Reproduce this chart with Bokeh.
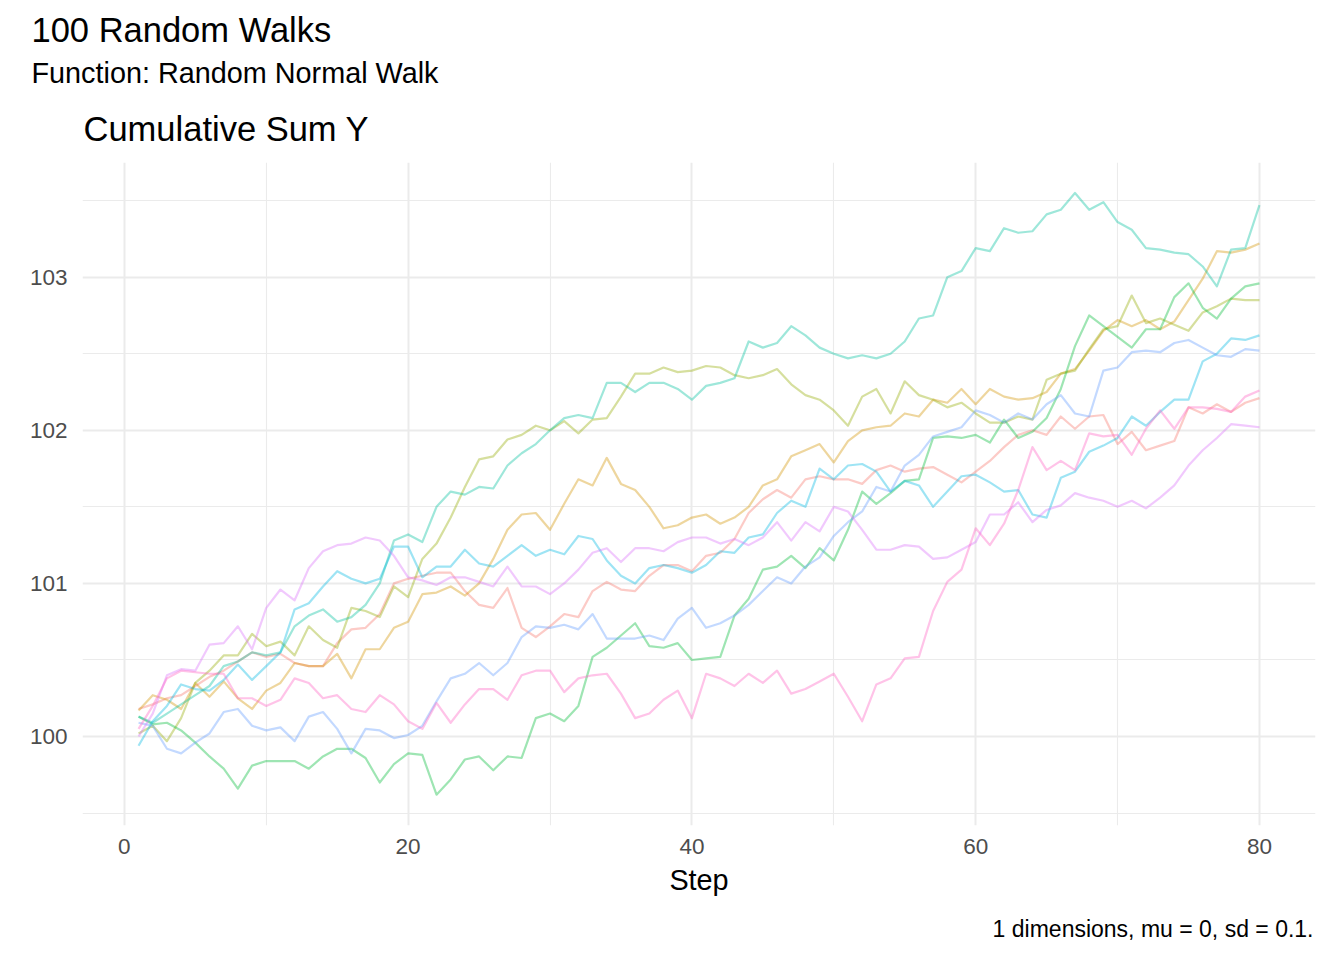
from bokeh.plotting import figure
from bokeh.models import Range1d, FixedTicker, Title
from bokeh.embed import file_html
from bokeh.resources import INLINE

steps = list(range(1, 81))

walk_red = [100.18, 100.21, 100.25, 100.27, 100.33, 100.39, 100.43, 100.49, 100.55, 100.52,
            100.54, 100.48, 100.46, 100.46, 100.61, 100.70, 100.71, 100.80, 101.00, 101.03,
            101.05, 101.07, 101.07, 100.95, 100.86, 100.84, 100.97, 100.71, 100.65, 100.72,
            100.80, 100.78, 100.95, 101.01, 100.96, 100.95, 101.05, 101.12, 101.12, 101.08,
            101.18, 101.20, 101.29, 101.46, 101.55, 101.61, 101.56, 101.68, 101.70, 101.68,
            101.68, 101.65, 101.74, 101.77, 101.73, 101.75, 101.76, 101.71, 101.66, 101.73,
            101.80, 101.89, 101.97, 102.00, 101.97, 102.09, 102.01, 102.09, 102.10, 101.91,
            101.99, 101.87, 101.90, 101.93, 102.15, 102.11, 102.17, 102.12, 102.18, 102.21]

walk_orange = [100.17, 100.27, 100.24, 100.18, 100.35, 100.26, 100.36, 100.25, 100.18, 100.30,
               100.35, 100.48, 100.46, 100.46, 100.54, 100.38, 100.57, 100.57, 100.71, 100.75,
               100.93, 100.94, 100.98, 100.92, 101.00, 101.16, 101.35, 101.45, 101.46, 101.35,
               101.52, 101.68, 101.64, 101.82, 101.65, 101.61, 101.50, 101.36, 101.38, 101.43,
               101.45, 101.39, 101.43, 101.50, 101.64, 101.68, 101.83, 101.87, 101.91, 101.79,
               101.93, 102.00, 102.02, 102.03, 102.11, 102.09, 102.20, 102.18, 102.27, 102.17,
               102.27, 102.22, 102.20, 102.21, 102.25, 102.37, 102.40, 102.52, 102.65, 102.72,
               102.68, 102.72, 102.66, 102.71, 102.85, 102.99, 103.17, 103.16, 103.18, 103.22]

walk_olive = [100.02, 100.07, 99.97, 100.12, 100.35, 100.43, 100.53, 100.53, 100.67, 100.59,
              100.62, 100.53, 100.72, 100.63, 100.58, 100.84, 100.82, 100.78, 100.98, 100.91,
              101.16, 101.26, 101.43, 101.63, 101.81, 101.83, 101.94, 101.97, 102.03, 102.00,
              102.06, 101.98, 102.07, 102.08, 102.22, 102.37, 102.37, 102.41, 102.38, 102.39,
              102.42, 102.41, 102.36, 102.34, 102.36, 102.40, 102.30, 102.23, 102.20, 102.13,
              102.03, 102.22, 102.27, 102.11, 102.32, 102.23, 102.20, 102.15, 102.18, 102.11,
              102.05, 102.05, 102.09, 102.07, 102.33, 102.37, 102.39, 102.53, 102.66, 102.68,
              102.88, 102.70, 102.73, 102.69, 102.65, 102.77, 102.81, 102.86, 102.85, 102.85]

walk_green = [100.13, 100.08, 100.09, 100.04, 99.96, 99.87, 99.79, 99.66, 99.81, 99.84,
              99.84, 99.84, 99.79, 99.87, 99.92, 99.92, 99.86, 99.70, 99.82, 99.89,
              99.88, 99.62, 99.72, 99.85, 99.87, 99.78, 99.87, 99.86, 100.12, 100.15,
              100.10, 100.20, 100.52, 100.58, 100.66, 100.74, 100.59, 100.58, 100.61, 100.50,
              100.51, 100.52, 100.79, 100.90, 101.09, 101.11, 101.18, 101.10, 101.23, 101.15,
              101.35, 101.60, 101.52, 101.59, 101.67, 101.68, 101.95, 101.96, 101.95, 101.97,
              101.92, 102.07, 101.95, 101.99, 102.08, 102.27, 102.55, 102.75, 102.68, 102.61,
              102.54, 102.66, 102.66, 102.87, 102.96, 102.80, 102.73, 102.86, 102.94, 102.96]

walk_teal = [100.13, 100.09, 100.15, 100.21, 100.27, 100.33, 100.46, 100.49, 100.55, 100.53,
             100.55, 100.72, 100.79, 100.83, 100.75, 100.78, 100.86, 101.00, 101.28, 101.32,
             101.27, 101.50, 101.60, 101.58, 101.63, 101.62, 101.77, 101.85, 101.91, 102.00,
             102.08, 102.10, 102.08, 102.31, 102.31, 102.25, 102.31, 102.31, 102.27, 102.20,
             102.29, 102.31, 102.34, 102.58, 102.54, 102.57, 102.68, 102.62, 102.54, 102.50,
             102.47, 102.49, 102.47, 102.50, 102.58, 102.73, 102.75, 103.00, 103.04, 103.19,
             103.17, 103.32, 103.29, 103.30, 103.41, 103.44, 103.55, 103.44, 103.49, 103.36,
             103.31, 103.19, 103.18, 103.16, 103.15, 103.07, 102.94, 103.18, 103.19, 103.47]

walk_cyan = [99.94, 100.10, 100.20, 100.34, 100.31, 100.30, 100.37, 100.47, 100.37, 100.46,
             100.55, 100.83, 100.87, 100.98, 101.08, 101.03, 101.00, 101.03, 101.24, 101.24,
             101.04, 101.11, 101.11, 101.22, 101.13, 101.11, 101.18, 101.25, 101.18, 101.22,
             101.19, 101.31, 101.29, 101.15, 101.05, 101.00, 101.10, 101.12, 101.10, 101.07,
             101.12, 101.21, 101.20, 101.30, 101.32, 101.46, 101.54, 101.50, 101.75, 101.68,
             101.77, 101.78, 101.73, 101.60, 101.67, 101.64, 101.50, 101.60, 101.70, 101.71,
             101.66, 101.60, 101.61, 101.45, 101.43, 101.69, 101.73, 101.86, 101.90, 101.95,
             102.09, 102.03, 102.12, 102.20, 102.20, 102.45, 102.50, 102.60, 102.59, 102.62]

walk_blue = [100.09, 100.07, 99.92, 99.89, 99.96, 100.02, 100.16, 100.18, 100.07, 100.04,
             100.06, 99.97, 100.13, 100.16, 100.05, 99.89, 100.05, 100.04, 99.99, 100.01,
             100.07, 100.23, 100.38, 100.41, 100.48, 100.40, 100.48, 100.65, 100.72, 100.71,
             100.73, 100.70, 100.80, 100.64, 100.64, 100.64, 100.66, 100.63, 100.77, 100.84,
             100.71, 100.74, 100.79, 100.86, 100.95, 101.04, 101.00, 101.11, 101.17, 101.31,
             101.40, 101.47, 101.63, 101.60, 101.77, 101.84, 101.96, 101.99, 102.02, 102.13,
             102.10, 102.05, 102.11, 102.07, 102.17, 102.23, 102.11, 102.09, 102.39, 102.41,
             102.51, 102.52, 102.51, 102.57, 102.59, 102.54, 102.49, 102.48, 102.53, 102.52]

walk_violet = [100.00, 100.15, 100.40, 100.44, 100.43, 100.60, 100.61, 100.72, 100.57, 100.84,
               100.96, 100.89, 101.10, 101.21, 101.25, 101.26, 101.30, 101.28, 101.18, 101.04,
               101.02, 100.99, 101.04, 101.04, 101.01, 100.98, 101.11, 100.98, 100.98, 100.93,
               101.00, 101.09, 101.20, 101.23, 101.14, 101.23, 101.23, 101.21, 101.27, 101.30,
               101.30, 101.26, 101.29, 101.25, 101.30, 101.40, 101.28, 101.40, 101.34, 101.50,
               101.47, 101.35, 101.22, 101.22, 101.25, 101.24, 101.16, 101.17, 101.22, 101.27,
               101.45, 101.45, 101.53, 101.40, 101.48, 101.51, 101.59, 101.56, 101.54, 101.50,
               101.54, 101.49, 101.56, 101.64, 101.77, 101.87, 101.95, 102.04, 102.03, 102.02]

walk_pink = [100.05, 100.20, 100.38, 100.43, 100.42, 100.41, 100.41, 100.25, 100.25, 100.20,
             100.24, 100.38, 100.35, 100.25, 100.27, 100.18, 100.16, 100.27, 100.21, 100.10,
             100.05, 100.22, 100.09, 100.21, 100.31, 100.31, 100.24, 100.40, 100.43, 100.43,
             100.29, 100.38, 100.40, 100.41, 100.28, 100.12, 100.15, 100.24, 100.30, 100.12,
             100.41, 100.38, 100.33, 100.41, 100.35, 100.43, 100.28, 100.31, 100.36, 100.41,
             100.26, 100.10, 100.34, 100.38, 100.51, 100.52, 100.82, 101.01, 101.09, 101.36,
             101.25, 101.39, 101.61, 101.89, 101.74, 101.80, 101.74, 101.98, 101.96, 101.97,
             101.84, 102.01, 102.13, 102.01, 102.15, 102.15, 102.14, 102.12, 102.22, 102.26]

walks = [walk_red, walk_orange, walk_olive, walk_green, walk_teal,
         walk_cyan, walk_blue, walk_violet, walk_pink]
colors = ["#F8766D", "#D39200", "#93AA00", "#00BA38", "#00C19F",
          "#00B9E3", "#619CFF", "#DB72FB", "#FF61C3"]

x_ticks = [0, 20, 40, 60, 80]
x_minor = [10, 30, 50, 70]
y_ticks = [100, 101, 102, 103]
y_minor = [99.5, 100.5, 101.5, 102.5, 103.5]

FONT = "Liberation Sans"
W, H = 1344, 960
XR = (-2.95, 83.95)
YR = (99.419, 103.749)

p = figure(width=W, height=H, x_range=Range1d(*XR), y_range=Range1d(*YR),
           output_backend="svg", toolbar_location=None,
           min_border_left=82, min_border_right=29,
           min_border_top=162, min_border_bottom=135)
p.outline_line_color = None
p.background_fill_color = "white"
p.border_fill_color = "white"

p.xaxis.ticker = FixedTicker(ticks=x_ticks, minor_ticks=x_minor)
p.yaxis.ticker = FixedTicker(ticks=y_ticks, minor_ticks=y_minor)
for ax in (p.xaxis, p.yaxis):
    ax.axis_line_color = None
    ax.major_tick_line_color = None
    ax.minor_tick_line_color = None
    ax.major_tick_out = 0
    ax.major_tick_in = 0
    ax.minor_tick_out = 0
    ax.minor_tick_in = 0
    ax.major_label_text_color = "#4D4D4D"
    ax.major_label_text_font = FONT
    ax.major_label_text_font_size = "22.5px"
p.xaxis.major_label_standoff = 13
p.yaxis.major_label_standoff = 15
p.xaxis.axis_label = "Step"
p.xaxis.axis_label_text_font = FONT
p.xaxis.axis_label_text_font_size = "28.8px"
p.xaxis.axis_label_text_font_style = "normal"
p.xaxis.axis_label_text_color = "black"
p.xaxis.axis_label_standoff = 7

for g in (p.xgrid, p.ygrid):
    g.grid_line_color = "#EBEBEB"
    g.grid_line_width = 2
    g.minor_grid_line_color = "#EBEBEB"
    g.minor_grid_line_width = 1.1

for vals, c in zip(walks, colors):
    p.line(steps, vals, line_color=c, line_alpha=0.38, line_width=2.2, line_join="round")


def make_title(txt, size, offset, standoff, align="left"):
    return Title(text=txt, align=align, offset=offset, standoff=standoff,
                 text_font=FONT, text_font_size=size, text_font_style="normal",
                 text_color="black")


# stacked from the panel outwards
p.add_layout(make_title("Cumulative Sum Y", "34.5px", 1, 29), "above")
p.add_layout(make_title("Function: Random Normal Walk", "28.8px", -51, 9), "above")
p.add_layout(make_title("100 Random Walks", "34.5px", -51, 3), "above")
p.add_layout(make_title("1 dimensions, mu = 0, sd = 0.1.", "23px", 2, 30, align="right"), "below")

open("out.html", "w").write(file_html(p, INLINE))
